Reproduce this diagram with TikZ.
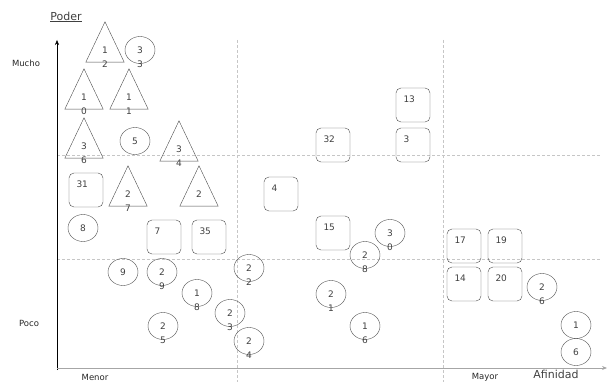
\documentclass[tikz,border=0pt]{standalone}
\usepackage{fontspec}
\setmainfont{DejaVu Sans}
\usetikzlibrary{arrows.meta, positioning, shapes.geometric}

\begin{document}
\begin{tikzpicture}[
  x = 1pt, y = -1pt,
  font = \fontsize{9}{14}\selectfont,
  every node/.style = {text=black!75},
  shp/.style = {draw=black!70, inner sep=0pt, text width=14pt, align=center},
  circ/.style = {shp, ellipse, minimum width=30pt, minimum height=27pt,
                 text height=7pt, text depth=0pt},
  sq/.style = {shp, rectangle, rounded corners=5pt, minimum size=34pt,
               text width=19pt, align=left, text height=7pt, text depth=11pt},
  tri/.style = {rectangle, inner sep=0pt, minimum width=38pt, minimum height=40pt,
                text width=14pt, align=center, text height=23pt, text depth=0pt},
  grid/.style = {gray!45, dash pattern=on 3pt off 2pt},
  axislabel/.style = {font=\fontsize{8.5}{9}\selectfont, text=black!85},
  title/.style = {font=\fontsize{11}{13}\selectfont},
  arrow/.style = {-{Stealth[length=5pt, width=4pt]}},
]
\useasboundingbox (0,0) rectangle (608,382);

% grid of quadrants
\draw[grid] (237,40) -- (237,382);
\draw[grid] (443,40) -- (443,382);
\draw[grid] (57,155) -- (600,155);
\draw[grid] (57,259) -- (600,259);

% axes
\coordinate (origin) at (57,370);
\coordinate (ytip) at (57,40);
\coordinate (xstart) at (57,368);
\coordinate (xtip) at (607,368);
\draw[arrow] (origin) -- (ytip);
\draw[arrow, gray!70, line width=1pt] (xstart) -- (xtip);

\node[title] (poder) at (66,17) {\underline{Poder}};
\node[title] (afinidad) at (556,374) {Afinidad};
\node[axislabel] (mucho) at (26,63) {Mucho};
\node[axislabel] (poco) at (29,323) {Poco};
\node[axislabel] (menor) at (95,377) {Menor};
\node[axislabel] (mayor) at (485,377) {Mayor};

% triangles
\node[tri] (t12) at (105,42) {1\\2};
\node[tri] (t10) at (84,89) {1\\0};
\node[tri] (t11) at (129,89) {1\\1};
\node[tri] (t36) at (84,138) {3\\6};
\node[tri] (t34) at (179,141) {3\\4};
\node[tri] (t27) at (128,186) {2\\7};
\node[tri] (t2) at (199,186) {2};
\foreach \t in {t12, t10, t11, t36, t34, t27, t2}
  \draw[black!70] (\t.north) -- (\t.south east) -- (\t.south west) -- cycle;

% circles
\node[circ] (c33) at (140,50) {3\\3};
\node[circ] (c5) at (135,141) {5};
\node[circ] (c8) at (83,228) {8};
\node[circ] (c9) at (123,272) {9};
\node[circ] (c29) at (162,272) {2\\9};
\node[circ] (c18) at (197,293) {1\\8};
\node[circ] (c25) at (163,326) {2\\5};
\node[circ] (c23) at (230,313) {2\\3};
\node[circ] (c22) at (249,268) {2\\2};
\node[circ] (c24) at (249,341) {2\\4};
\node[circ] (c21) at (331,294) {2\\1};
\node[circ] (c16) at (365,326) {1\\6};
\node[circ] (c28) at (365,255) {2\\8};
\node[circ] (c30) at (390,233) {3\\0};
\node[circ] (c26) at (542,287) {2\\6};
\node[circ] (c1) at (576,325) {1};
\node[circ] (c6) at (576,352) {6};

% rounded squares
\node[sq] (s31) at (86,190) {31};
\node[sq] (s7) at (164,237) {7};
\node[sq] (s35) at (209,237) {35};
\node[sq] (s4) at (281,194) {4};
\node[sq] (s32) at (333,145) {32};
\node[sq] (s15) at (333,233) {15};
\node[sq] (s13) at (413,105) {13};
\node[sq] (s3) at (413,145) {3};
\node[sq] (s17) at (464,246) {17};
\node[sq] (s19) at (505,246) {19};
\node[sq] (s14) at (464,284) {14};
\node[sq] (s20) at (505,284) {20};
\end{tikzpicture}
\end{document}
